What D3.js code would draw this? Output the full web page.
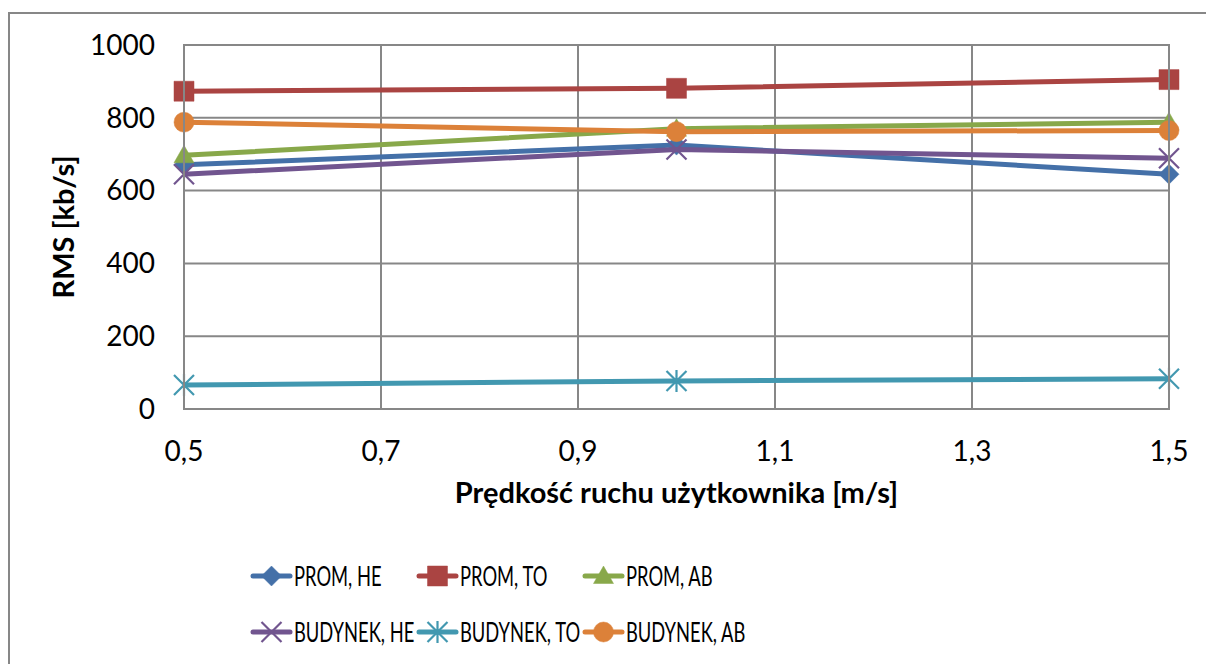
<!DOCTYPE html>
<html lang="pl">
<head>
<meta charset="UTF-8">
<title>RMS vs speed</title>
<script src="https://d3js.org/d3.v7.min.js"></script>
<style>
  body { margin: 0; background: #fff; }
  text { font-family: Lato, "Open Sans", sans-serif; fill: #000; }
  .grid line { stroke: #878787; stroke-width: 2px; }
  .frame { fill: none; stroke: #878787; stroke-width: 2px; }
</style>
</head>
<body>
<svg id="chart" width="1206" height="664"></svg>
<script>
// data
const speeds = [0.5, 1.0, 1.5];
const xTicks = [0.5, 0.7, 0.9, 1.1, 1.3, 1.5];
const yTicks = [0, 200, 400, 600, 800, 1000];
const seriesNames = ["PROM, HE", "PROM, TO", "PROM, AB", "BUDYNEK, HE", "BUDYNEK, TO", "BUDYNEK, AB"];
const promHE = [671, 725, 645];
const promTO = [873, 881, 905];
const promAB = [697, 770, 788];
const budHE = [645, 713, 689];
const budTO = [66, 77, 83];
const budAB = [788, 762, 765];

const colors = ["#4470a8", "#aa4442", "#88a84a", "#71558f", "#4298b0", "#dc8139"];
const markers = ["diamond", "square", "triangle", "x", "star", "circle"];
const allValues = [promHE, promTO, promAB, budHE, budTO, budAB];

const svg = d3.select("#chart");
const plot = { left: 184, right: 1169, top: 45, bottom: 409 };

const x = d3.scaleLinear().domain([0.5, 1.5]).range([plot.left, plot.right]);
const y = d3.scaleLinear().domain([0, 1000]).range([plot.bottom, plot.top]);
const fmt = d => d3.format(".1f")(d).replace(".", ",");

// outer chart border
svg.append("rect").attr("class", "frame")
  .attr("x", 9).attr("y", 13).attr("width", 1210).attr("height", 670);

// gridlines
const grid = svg.append("g").attr("class", "grid");
grid.selectAll(".hy").data(yTicks).join("line")
  .attr("x1", plot.left).attr("x2", plot.right)
  .attr("y1", d => y(d)).attr("y2", d => y(d));
grid.selectAll(".vx").data(xTicks).join("line")
  .attr("y1", plot.top).attr("y2", plot.bottom)
  .attr("x1", d => x(d)).attr("x2", d => x(d));

// tick labels
svg.append("g").selectAll("text").data(yTicks).join("text")
  .attr("x", plot.left - 29).attr("y", d => y(d))
  .attr("dy", "0.35em").attr("text-anchor", "end")
  .style("font-size", "28px").text(d => d);
svg.append("g").selectAll("text").data(xTicks).join("text")
  .attr("x", d => x(d)).attr("y", 461)
  .attr("text-anchor", "middle")
  .style("font-size", "28px").text(fmt);

// axis titles
svg.append("text")
  .attr("transform", `translate(74,${(plot.top + plot.bottom) / 2}) rotate(-90)`)
  .attr("text-anchor", "middle")
  .style("font-size", "29px").style("font-weight", "bold")
  .text("RMS [kb/s]");
svg.append("text")
  .attr("x", (plot.left + plot.right) / 2).attr("y", 503)
  .attr("text-anchor", "middle")
  .style("font-size", "29px").style("font-weight", "bold")
  .text("Prędkość ruchu użytkownika [m/s]");

function markerPath(type, s) {
  const h = s / 2;
  switch (type) {
    case "diamond": return `M0,${-h}L${h},0L0,${h}L${-h},0Z`;
    case "square": return `M${-h},${-h}H${h}V${h}H${-h}Z`;
    case "triangle": return `M0,${-h}L${h},${h * 0.75}H${-h}Z`;
    case "circle": return d3.arc()({ innerRadius: 0, outerRadius: h, startAngle: 0, endAngle: 2 * Math.PI });
    case "x": return `M${-h},${-h}L${h},${h}M${h},${-h}L${-h},${h}`;
    case "star": return `M${-h},${-h}L${h},${h}M${h},${-h}L${-h},${h}M0,${-h * 1.1}V${h * 1.1}`;
  }
}
function drawMarker(g, type, color, cx, cy) {
  const stroked = type === "x" || type === "star";
  g.append("path")
    .attr("transform", `translate(${cx},${cy})`)
    .attr("d", markerPath(type, 20))
    .attr("fill", stroked ? "none" : color)
    .attr("stroke", color)
    .attr("stroke-width", stroked ? 2.2 : 0.5);
}

// series
const line = d3.line().x((d, i) => x(speeds[i])).y(d => y(d));
allValues.forEach((vals, k) => {
  const g = svg.append("g");
  g.append("path").datum(vals)
    .attr("d", line).attr("fill", "none")
    .attr("stroke", colors[k]).attr("stroke-width", 5)
    .attr("stroke-linejoin", "round");
  vals.forEach((v, i) => drawMarker(g, markers[k], colors[k], x(speeds[i]), y(v)));
});

// plot frame
svg.append("rect").attr("class", "frame")
  .attr("x", plot.left).attr("y", plot.top)
  .attr("width", plot.right - plot.left).attr("height", plot.bottom - plot.top);

// legend
const legendCols = [253, 419, 585];
const legendRows = [576, 632];
seriesNames.forEach((name, k) => {
  const lx = legendCols[k % 3], ly = legendRows[Math.floor(k / 3)];
  const g = svg.append("g");
  g.append("line")
    .attr("x1", lx).attr("x2", lx + 37).attr("y1", ly).attr("y2", ly)
    .attr("stroke", colors[k]).attr("stroke-width", 5).attr("stroke-linecap", "round");
  drawMarker(g, markers[k], colors[k], lx + 18.5, ly);
  g.append("text")
    .attr("transform", `translate(${lx + 41},${ly}) scale(0.68,1)`)
    .attr("dy", "0.36em")
    .style("font-size", "27px")
    .text(name);
});
</script>
</body>
</html>
